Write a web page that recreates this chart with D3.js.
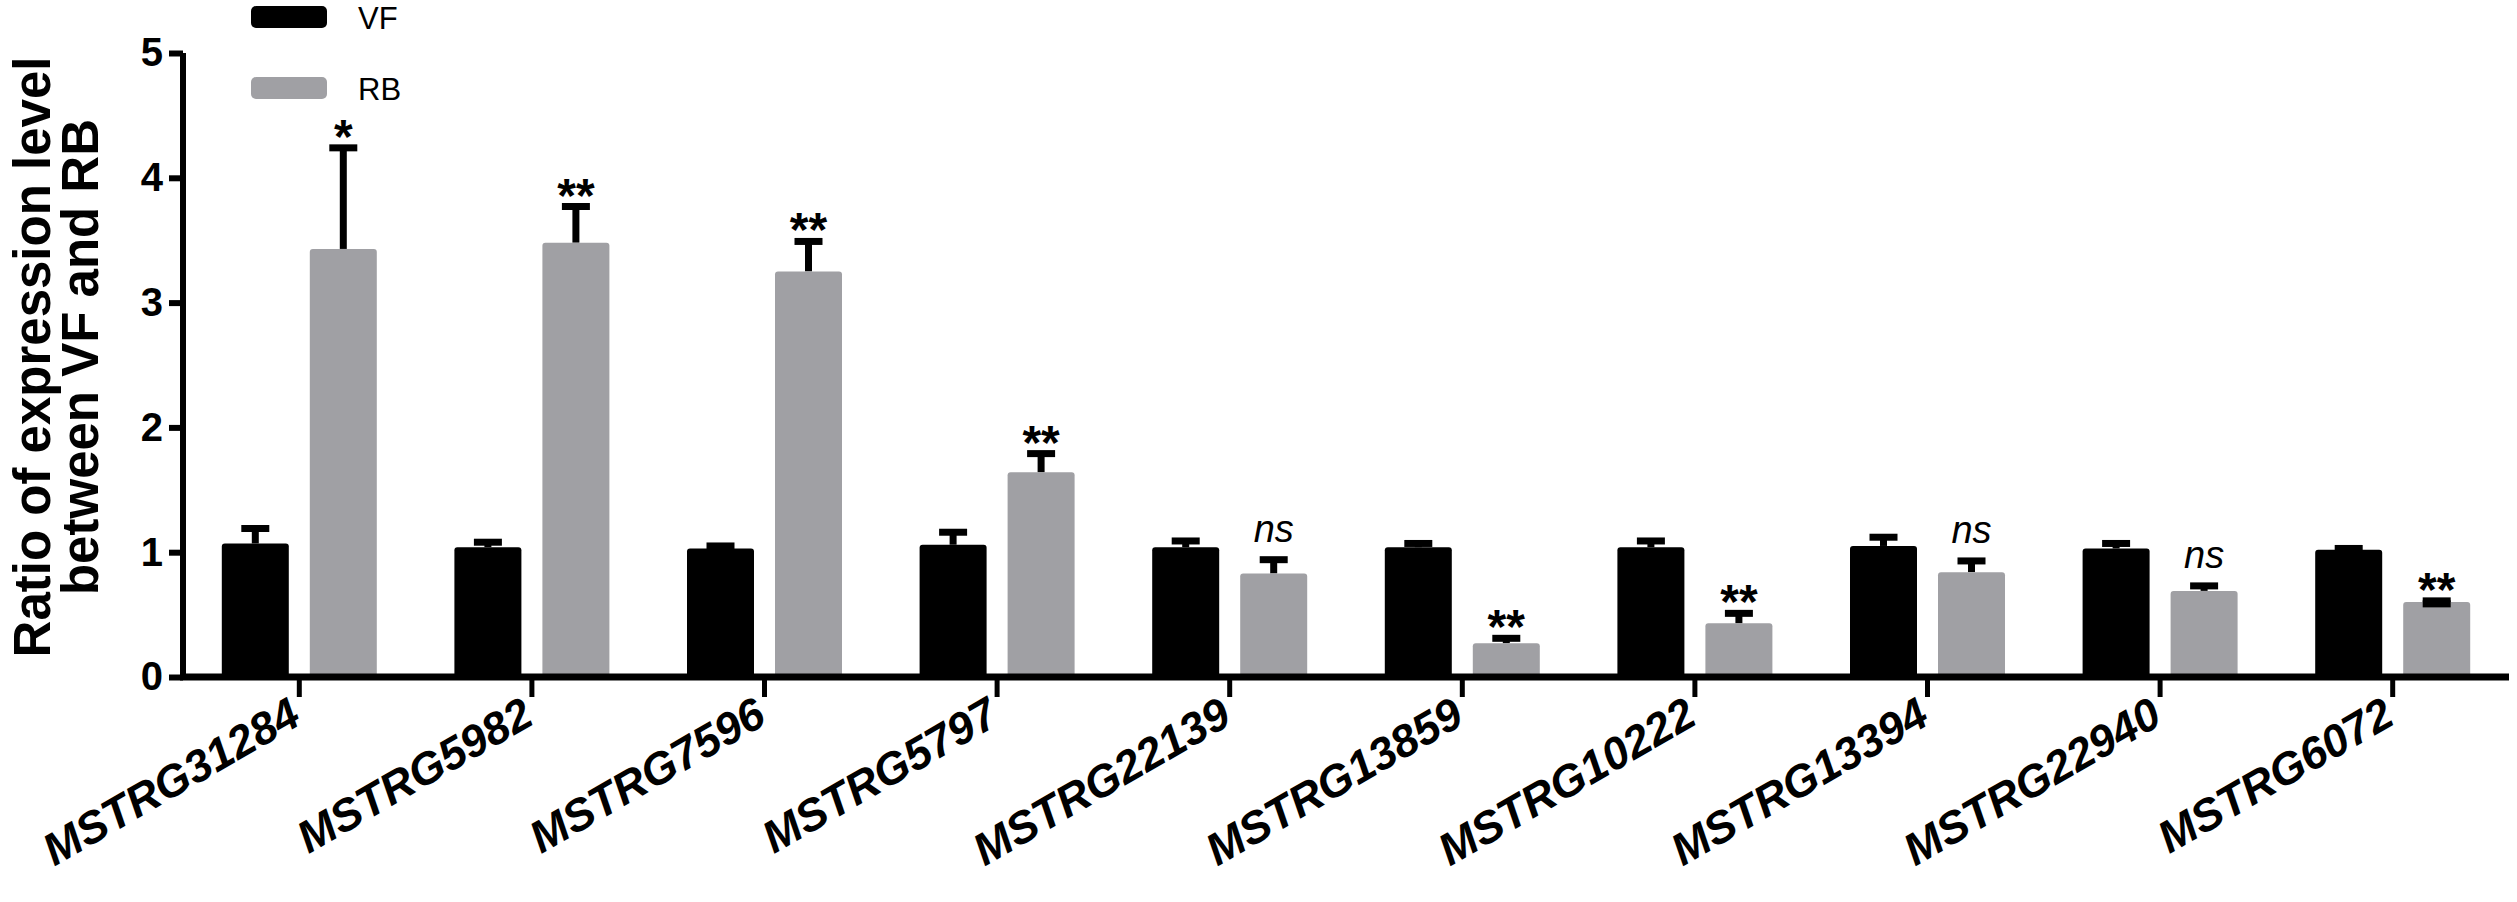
<!DOCTYPE html>
<html>
<head>
<meta charset="utf-8">
<script src="https://cdn.jsdelivr.net/npm/d3@7"></script>
<style>
  body { margin: 0; background: #fff; }
  text { font-family: Arial, "Liberation Sans", sans-serif; }
</style>
</head>
<body>
<div id="chart"></div>
<script>
// data
const categories = ["MSTRG31284", "MSTRG5982", "MSTRG7596", "MSTRG5797", "MSTRG22139",
                    "MSTRG13859", "MSTRG10222", "MSTRG13394", "MSTRG22940", "MSTRG6072"];
const series = ["VF", "RB"];
const vfMean = [1.07, 1.04, 1.03, 1.06, 1.04, 1.04, 1.04, 1.05, 1.03, 1.02];
const vfErr  = [0.12, 0.04, 0.02, 0.10, 0.05, 0.03, 0.05, 0.07, 0.04, 0.01];
const rbMean = [3.43, 3.48, 3.25, 1.64, 0.83, 0.27, 0.43, 0.84, 0.69, 0.60];
const rbErr  = [0.81, 0.29, 0.24, 0.15, 0.11, 0.04, 0.08, 0.09, 0.04, 0.01];
const signif = ["*", "**", "**", "**", "ns", "**", "**", "ns", "ns", "**"];
const yTicks = [0, 1, 2, 3, 4, 5];

const width = 2517;
const height = 902;
const margin = { top: 53, right: 8, bottom: 225, left: 183 };
const colors = { VF: "#000000", RB: "#a0a0a4" };
const barW = 67, barGap = 21;

const svg = d3.select("#chart")
              .append("svg")
              .attr("width", width)
              .attr("height", height);

svg.append("rect").attr("width", width).attr("height", height).attr("fill", "#fff");

const x0 = d3.scaleBand()
             .domain(categories)
             .range([margin.left, width - margin.right])
             .padding(0);

// two bars per group, centred on the group tick
const half = barW + barGap / 2;
const x1 = d3.scaleBand()
             .domain(series)
             .range([x0.bandwidth() / 2 - half, x0.bandwidth() / 2 + half])
             .paddingInner(barGap / (barW + barGap));

const y = d3.scaleLinear()
            .domain([0, 5])
            .range([height - margin.bottom, margin.top]);

// flatten to one record per bar
const bars = [];
categories.forEach((c, i) => {
    bars.push({ cat: c, s: "VF", mean: vfMean[i], err: vfErr[i], sig: null });
    bars.push({ cat: c, s: "RB", mean: rbMean[i], err: rbErr[i], sig: signif[i] });
});

const barG = svg.append("g");

// error bars first (upper only), bar body drawn over them
const errG = barG.selectAll(".err")
                 .data(bars)
                 .enter()
                 .append("g")
                 .attr("class", "err")
                 .attr("transform", d => `translate(${x0(d.cat) + x1(d.s) + x1.bandwidth() / 2},0)`);

errG.append("line")
    .attr("x1", 0).attr("x2", 0)
    .attr("y1", d => y(d.mean))
    .attr("y2", d => y(d.mean + d.err))
    .attr("stroke", "#000")
    .attr("stroke-width", 7);

errG.append("line")
    .attr("x1", -14).attr("x2", 14)
    .attr("y1", d => y(d.mean + d.err))
    .attr("y2", d => y(d.mean + d.err))
    .attr("stroke", "#000")
    .attr("stroke-width", 7);

barG.selectAll(".bar")
    .data(bars)
    .enter()
    .append("rect")
    .attr("class", "bar")
    .attr("x", d => x0(d.cat) + x1(d.s))
    .attr("y", d => y(d.mean))
    .attr("width", x1.bandwidth())
    .attr("height", d => y(0) - y(d.mean))
    .attr("rx", 3)
    .attr("fill", d => colors[d.s]);

// the tiny RB error of the last gene sits inside the bar top
barG.selectAll(".capIn")
    .data(bars.filter(d => d.err < 0.02 && d.s === "RB"))
    .enter()
    .append("line")
    .attr("x1", d => x0(d.cat) + x1(d.s) + x1.bandwidth() / 2 - 14)
    .attr("x2", d => x0(d.cat) + x1(d.s) + x1.bandwidth() / 2 + 14)
    .attr("y1", d => y(d.mean + d.err) + 3)
    .attr("y2", d => y(d.mean + d.err) + 3)
    .attr("stroke", "#000")
    .attr("stroke-width", 7);

// significance marks
barG.selectAll(".sig")
    .data(bars.filter(d => d.sig))
    .enter()
    .append("text")
    .attr("class", "sig")
    .attr("x", d => x0(d.cat) + x1(d.s) + x1.bandwidth() / 2)
    .attr("y", d => d.sig === "ns" ? y(d.mean + d.err) - 18 : y(d.mean + d.err) + 5)
    .attr("text-anchor", "middle")
    .style("font-size", d => d.sig === "ns" ? "38px" : "48px")
    .style("font-weight", d => d.sig === "ns" ? "normal" : "bold")
    .style("font-style", d => d.sig === "ns" ? "italic" : "normal")
    .text(d => d.sig);

// y axis
const yAxis = svg.append("g")
                 .attr("transform", `translate(${margin.left},0)`)
                 .call(d3.axisLeft(y).tickValues(yTicks).tickFormat(d3.format("d")).tickSize(14).tickPadding(6));
yAxis.select(".domain").attr("stroke-width", 6).attr("d", `M0,${y(5)}V${y(0)}`);
yAxis.selectAll(".tick line").attr("stroke-width", 6);
yAxis.selectAll(".tick text")
     .style("font-size", "40px")
     .style("font-weight", "bold")
     .attr("fill", "#000");

// x axis
const xAxis = svg.append("g")
                 .attr("transform", `translate(0,${y(0)})`)
                 .call(d3.axisBottom(x0).tickSize(20).tickPadding(6));
xAxis.select(".domain").attr("stroke-width", 7).attr("d", `M${margin.left - 3},0H${width - margin.right}`);
xAxis.selectAll(".tick line").attr("stroke-width", 5);
xAxis.selectAll(".tick text")
     .attr("text-anchor", "end")
     .attr("dy", 0)
     .attr("transform", "translate(4,46) rotate(-30)")
     .attr("y", 0)
     .attr("x", 0)
     .style("font-size", "45px")
     .style("font-weight", "bold")
     .style("font-style", "italic")
     .attr("fill", "#000");

// y axis title, two lines
const title = svg.append("text")
                 .attr("transform", `translate(0,${(y(0) + y(5)) / 2 - 8}) rotate(-90)`)
                 .attr("text-anchor", "middle")
                 .style("font-size", "51px")
                 .style("font-weight", "bold");
title.append("tspan").attr("x", 0).attr("y", 50).text("Ratio of expression level");
title.append("tspan").attr("x", 0).attr("y", 98).text("between VF and RB");

// legend
const legend = svg.append("g").attr("transform", "translate(251,6)");
const legendItems = legend.selectAll(".legendItem")
                          .data(series)
                          .enter()
                          .append("g")
                          .attr("class", "legendItem")
                          .attr("transform", (d, i) => `translate(0,${i * 71})`);
legendItems.append("rect")
           .attr("width", 76)
           .attr("height", 22)
           .attr("rx", 5)
           .attr("fill", d => colors[d]);
legendItems.append("text")
           .attr("x", 107)
           .attr("y", 23)
           .style("font-size", "31px")
           .text(d => d);
</script>
</body>
</html>
